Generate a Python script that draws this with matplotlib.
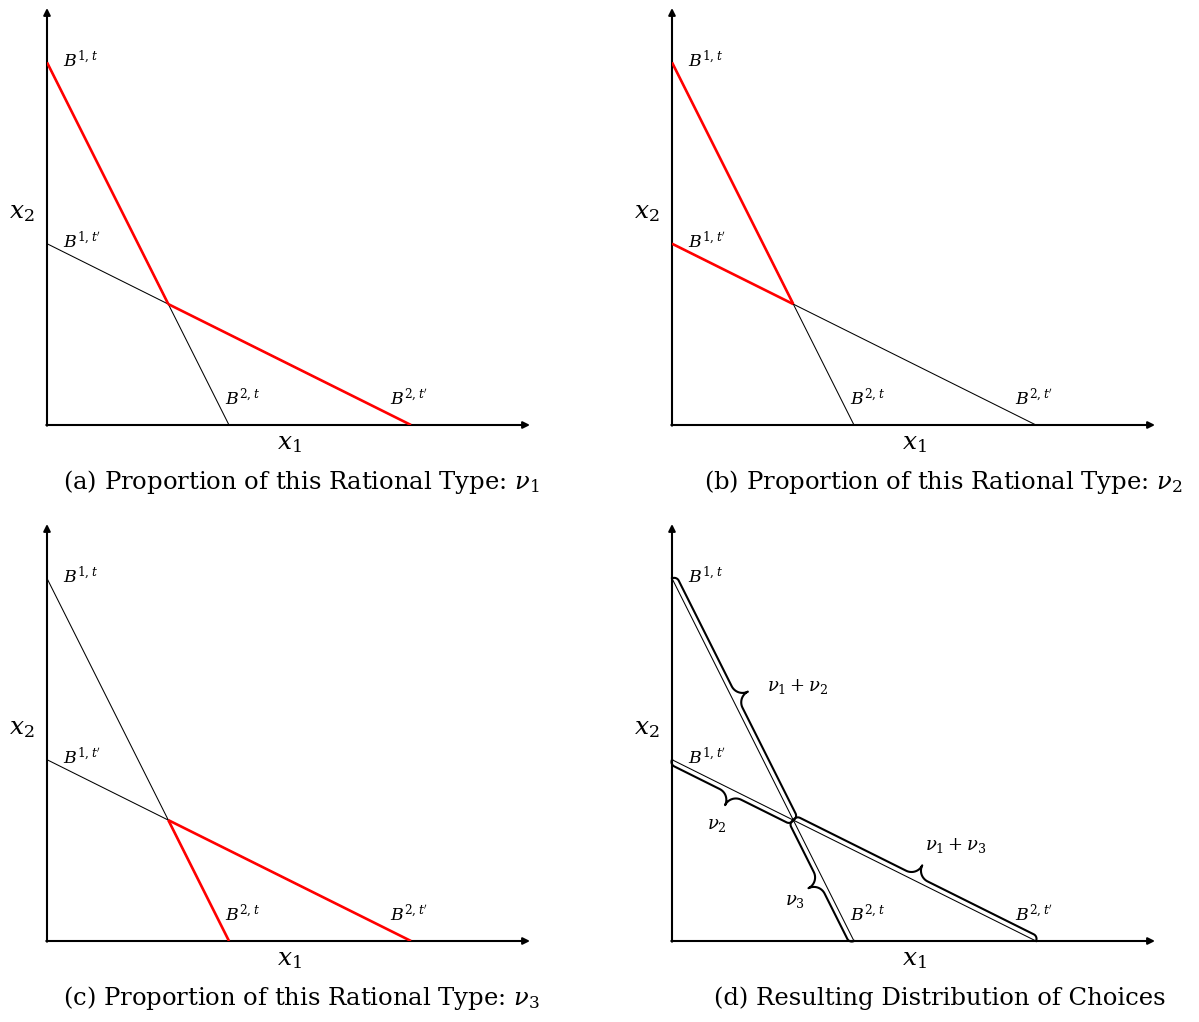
import numpy as np
import matplotlib
matplotlib.use("Agg")
import matplotlib.pyplot as plt

plt.rcParams['font.family'] = ['DejaVu Serif']
plt.rcParams['mathtext.fontset'] = 'dejavuserif'

# --- data: budget line intercepts (x-intercept, y-intercept) ---
budget_t = [1.0, 2.0]
budget_tp = [2.0, 1.0]
x_axis_max = 2.654
y_axis_max = 2.30

captions = [
    r"(a) Proportion of this Rational Type: $\nu_1$",
    r"(b) Proportion of this Rational Type: $\nu_2$",
    r"(c) Proportion of this Rational Type: $\nu_3$",
    "(d) Resulting Distribution of Choices",
]
red_segments = [
    ["t_upper", "tp_right"],
    ["t_upper", "tp_left"],
    ["t_lower", "tp_right"],
    [],
]
# braces in panel (d): segment, side, label, label offset (points)
brace_segments = ["t_upper", "tp_left", "t_lower", "tp_right"]
brace_sides = [1, -1, -1, 1]
brace_labels = [r"$\nu_1 + \nu_2$", r"$\nu_2$", r"$\nu_3$", r"$\nu_1 + \nu_3$"]
brace_label_offsets = [(36, 4), (-6, -14), (-10, -9), (24, 14)]

# intersection of the two budget lines
A = np.array([[1 / budget_t[0], 1 / budget_t[1]],
              [1 / budget_tp[0], 1 / budget_tp[1]]])
cross = np.linalg.solve(A, [1.0, 1.0])

segments = {
    "t_upper": [(0, budget_t[1]), tuple(cross)],
    "t_lower": [tuple(cross), (budget_t[0], 0)],
    "tp_left": [(0, budget_tp[1]), tuple(cross)],
    "tp_right": [tuple(cross), (budget_tp[0], 0)],
}


def brace_points(ax, p0, p1, side, h=5.0, H=17.0, w=12.0, r=5.0):
    """Curly brace along p0->p1 (data coords), built in pixels, returned in data."""
    q0 = ax.transData.transform(p0)
    q1 = ax.transData.transform(p1)
    L = np.hypot(*(q1 - q0))
    d = (q1 - q0) / L
    n = np.array([-d[1], d[0]]) * side
    th = np.linspace(0, np.pi / 2, 20)
    u = [r - r * np.cos(th)]
    v = [h * np.sin(th)]
    u.append(np.array([L / 2 - w]))
    v.append(np.array([h]))
    u.append(L / 2 - w + w * np.sin(th))
    v.append(H - (H - h) * np.cos(th))
    u = np.concatenate(u)
    v = np.concatenate(v)
    uu = np.concatenate([u, (L - u)[::-1]])
    vv = np.concatenate([v, v[::-1]])
    pts = q0 + np.outer(uu, d) + np.outer(vv, n)
    tip = q0 + d * L / 2 + n * H
    inv = ax.transData.inverted()
    return inv.transform(pts), inv.transform(tip)


fig = plt.figure(figsize=(11.99, 10.22), dpi=100)
lefts = [47 / 1199, 672 / 1199, 47 / 1199, 672 / 1199]
bottoms = [1 - 425 / 1022, 1 - 425 / 1022, 1 - 941 / 1022, 1 - 941 / 1022]
cap_x = [0.527, 0.561, 0.527, 0.555]
w_ax, h_ax = 483 / 1199, 417 / 1022

for i in range(4):
    ax = fig.add_axes([lefts[i], bottoms[i], w_ax, h_ax])
    ax.set_xlim(0, x_axis_max)
    ax.set_ylim(0, y_axis_max)
    ax.axis('off')

    # axes with arrows
    ax.annotate('', xy=(x_axis_max, 0), xytext=(-0.004, 0),
                arrowprops=dict(arrowstyle='-|>', lw=1.5, color='black',
                                mutation_scale=10, shrinkA=0, shrinkB=0))
    ax.annotate('', xy=(0, y_axis_max), xytext=(0, -0.004),
                arrowprops=dict(arrowstyle='-|>', lw=1.5, color='black',
                                mutation_scale=10, shrinkA=0, shrinkB=0))

    # budget lines
    ax.plot([0, budget_t[0]], [budget_t[1], 0], color='black', lw=0.75, zorder=2)
    ax.plot([0, budget_tp[0]], [budget_tp[1], 0], color='black', lw=0.75, zorder=2)
    for seg in red_segments[i]:
        (xa, ya), (xb, yb) = segments[seg]
        ax.plot([xa, xb], [ya, yb], color='#ff0000', lw=1.9,
                solid_capstyle='butt', zorder=3)

    if i == 3:
        for seg, side, lab, off in zip(brace_segments, brace_sides,
                                       brace_labels, brace_label_offsets):
            p0, p1 = segments[seg]
            pts, tip = brace_points(ax, p0, p1, side)
            ax.plot(pts[:, 0], pts[:, 1], color='black', lw=1.5, zorder=3,
                    clip_on=False)
            ax.annotate(lab, xy=tip, xytext=off, textcoords='offset points',
                        ha='center', va='center', fontsize=13)

    # labels
    ax.text(0.09, budget_t[1] + 0.01, r"$B^{1,t}$", ha='left', va='center', fontsize=12.5)
    ax.text(0.09, budget_tp[1] + 0.015, r"$B^{1,t^{\prime}}$", ha='left', va='center', fontsize=12.5)
    ax.text(budget_t[0] - 0.02, 0.15, r"$B^{2,t}$", ha='left', va='center', fontsize=12.5)
    ax.text(budget_tp[0] - 0.01, 0.15, r"$B^{2,t^{\prime}}$", ha='center', va='center', fontsize=12.5)
    ax.text(1.33, -0.10, r"$x_1$", ha='center', va='center', fontsize=18, clip_on=False)
    ax.text(-0.14, 1.17, r"$x_2$", ha='center', va='center', fontsize=18, clip_on=False)
    ax.text(cap_x[i], -0.137, captions[i], transform=ax.transAxes,
            ha='center', va='center', fontsize=17.5)

fig.savefig('out.png', dpi=100)
